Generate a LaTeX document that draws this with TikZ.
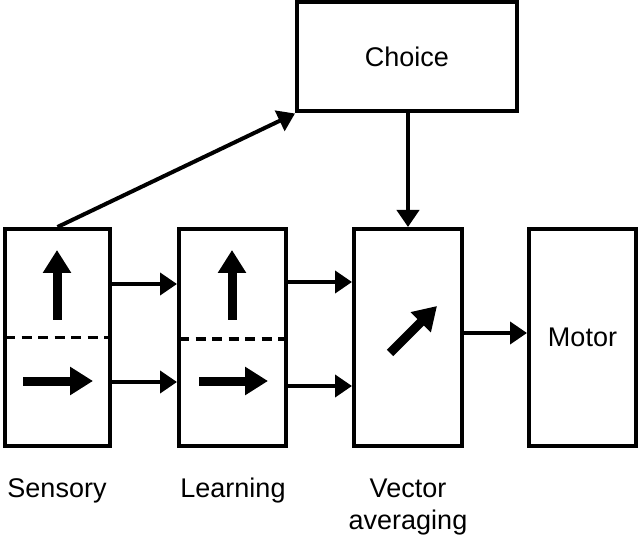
\documentclass[tikz,border=0pt]{standalone}
\usepackage{fontspec}
\setmainfont{Liberation Sans}
\usetikzlibrary{arrows.meta}
\begin{document}
\begin{tikzpicture}[x=1pt,y=-1pt,
  every node/.style={font=\fontsize{27pt}{32pt}\selectfont},
  box/.style={draw, line width=4pt, inner sep=0pt},
  dashline/.style={line width=3.5pt, dash pattern=on 10pt off 6.5pt},
  bigarrow/.style={line width=9pt, -{Triangle[length=23pt,width=27pt]}},
  conn/.style={line width=4pt, -{Triangle[length=17pt,width=22pt]}},
  lbl/.style={anchor=base, inner sep=0pt}]
\useasboundingbox (0,0) rectangle (640,537);
% boxes
\node[box, minimum width=105pt, minimum height=217pt] (sens) at (57.5,337.5) {};
\node[box, minimum width=107pt, minimum height=217pt] (learn) at (232.5,337.5) {};
\node[box, minimum width=108pt, minimum height=217pt] (vec) at (408,337.5) {};
\node[box, minimum width=107pt, minimum height=217pt] (motor) at (582.5,337.5) {Motor};
\node[box, minimum width=220pt, minimum height=109.5pt] (choice) at (407,56.75) {Choice};
% dashed dividers
\draw[dashline] ([xshift=2pt]sens.west) -- ([xshift=-2pt]sens.east);
\draw[dashline] ([xshift=2pt,yshift=-1.5pt]learn.west) -- ([xshift=-2pt,yshift=-1.5pt]learn.east);
% arrows inside boxes
\draw[bigarrow] (57,320) -- (57,250);
\draw[bigarrow] (23,381) -- (93,381);
\draw[bigarrow] (232,320) -- (232,250);
\draw[bigarrow] (199,381) -- (268,381);
\draw[bigarrow] (390,353) -- (437,306);
% connector levels
\coordinate (ya) at (0,284);
\coordinate (yb) at (0,382);
\coordinate (yc) at (0,282);
\coordinate (yd) at (0,386);
\coordinate (ye) at (0,333);
\draw[conn] (sens.east |- ya) -- (learn.west |- ya);
\draw[conn] (sens.east |- yb) -- (learn.west |- yb);
\draw[conn] (learn.east |- yc) -- (vec.west |- yc);
\draw[conn] (learn.east |- yd) -- (vec.west |- yd);
\draw[conn] (vec.east |- ye) -- (motor.west |- ye);
\draw[conn] (vec.north |- choice.south) -- (vec.north);
\draw[conn] (sens.north) -- (choice.south west);
% labels
\node[lbl] (lsens) at (57,497) {Sensory};
\node[lbl] (llearn) at (233,497) {Learning};
\node[lbl] (lvec) at (408,497) {Vector};
\node[lbl] (lavg) at (408,529) {averaging};
\end{tikzpicture}
\end{document}
